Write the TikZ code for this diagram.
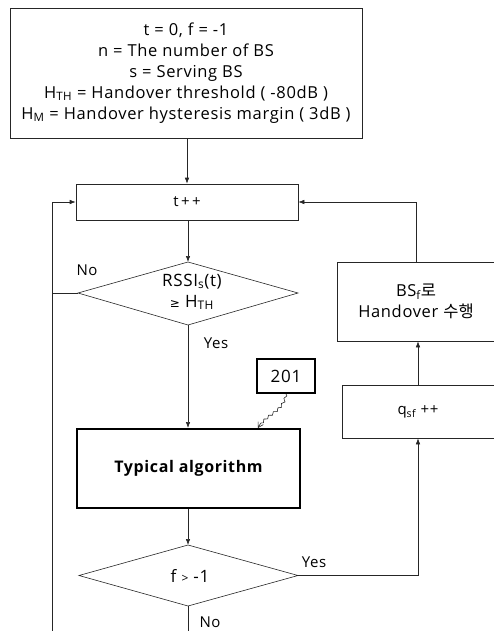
\documentclass[tikz,border=0pt]{standalone}
\usepackage{fontspec}
\setmainfont{Open Sans}[LetterSpace=4]
\newfontfamily\kr{Noto Sans CJK KR}
\newfontfamily\symf{DejaVu Sans}
\usetikzlibrary{arrows.meta,decorations.pathmorphing}
\begin{document}
\begin{tikzpicture}[x=1pt,y=-1pt,
  ln/.style={draw=black!85, line width=0.6pt},
  arr/.style={ln,-{Latex[length=6pt,width=4.5pt]}},
  box/.style={ln, rectangle, inner sep=2pt, align=center, font=\fontsize{16.5}{21}\selectfont},
  thick box/.style={draw=black, line width=2pt, rectangle, align=center},
  lab/.style={font=\fontsize{15}{17}\selectfont, inner sep=0pt}
]
\useasboundingbox (0,0) rectangle (493,631);

% initial box
\node[box, minimum width=352pt, minimum height=130pt] (init) at (186,73)
  {t = 0, f = -1\\
   n = The number of BS\\
   s = Serving BS\\
   H\textsubscript{TH} = Handover threshold ( -80dB )\\
   H\textsubscript{M} = Handover hysteresis margin ( 3dB )};

% t++
\node[box, minimum width=222pt, minimum height=36pt, font=\fontsize{15}{17}\selectfont] (tpp) at (187,202) {t\,+\,+};

% decision 1
\coordinate (d1t) at (188,262);
\coordinate (d1b) at (188,325);
\coordinate (d1l) at (78,293);
\coordinate (d1r) at (298,293);
\draw[ln] (d1t) -- (d1r) -- (d1b) -- (d1l) -- cycle;
\node[lab, align=center, font=\fontsize{17}{21}\selectfont] (d1txt) at (192,292)
  {RSSI\textsubscript{s}(t)\\{\symf\fontsize{12}{12}\selectfont ≥} H\textsubscript{TH}};

% typical algorithm
\node[thick box, minimum width=223pt, minimum height=79pt,
      font=\bfseries\fontsize{16}{18}\selectfont] (typ) at (188.5,468.5) {Typical algorithm};

% 201 reference box
\node[thick box, line width=1.8pt, minimum width=58pt, minimum height=34pt,
      font=\fontsize{17}{19}\selectfont] (ref) at (286,376) {201};

% decision 2
\coordinate (d2t) at (188,545);
\coordinate (d2b) at (188,606);
\coordinate (d2l) at (79,575.5);
\coordinate (d2r) at (298,575.5);
\draw[ln] (d2t) -- (d2r) -- (d2b) -- (d2l) -- cycle;
\node[lab, font=\fontsize{17}{19}\selectfont] (d2txt) at (190,575.5) {f {\fontsize{12}{12}\selectfont >} -1};

% right column boxes
\node[box, minimum width=158pt, minimum height=79pt] (ho) at (416,301.5)
  {BS\textsubscript{f}{\kr 로}\\Handover {\kr 수행}};
\node[box, minimum width=152pt, minimum height=53pt, font=\fontsize{15}{17}\selectfont] (qsf) at (418,411.5) {q\textsubscript{sf} ++};

% free ends
\coordinate (loopx) at (52,293);
\coordinate (loopbot) at (52,631);
\coordinate (d2end) at (188,631);
\coordinate (yescorner) at (418,575.5);

% connectors
\draw[arr] (tpp.north |- init.south) -- (tpp.north);
\draw[arr] (tpp.south -| d1t) -- (d1t);
\draw[arr] (d1b) -- (typ.north -| d1b);
\draw[arr] (typ.south -| d2t) -- (d2t);
\draw[ln] (d1l) -- (loopx);
\draw[arr] (loopbot) |- (tpp.west);
\draw[ln] (d2b) -- (d2end);
\draw[arr] (d2r) -- (yescorner) -- (qsf.south);
\draw[arr] (qsf.north) -- (qsf.north |- ho.south);
\draw[arr] (ho.north) |- (tpp.east);
\draw[ln, -{Straight Barb[length=5pt,width=6pt]},
      decorate, decoration={snake, amplitude=1.2pt, segment length=6pt, post length=5pt}]
  (ref.south) .. controls (283,412) and (265,412) .. (258,428);

% labels
\node[lab] (no1) at (87,270) {No};
\node[lab] (yes1) at (216,343) {Yes};
\node[lab] (yes2) at (314,562) {Yes};
\node[lab] (no2) at (210,622) {No};
\end{tikzpicture}
\end{document}
